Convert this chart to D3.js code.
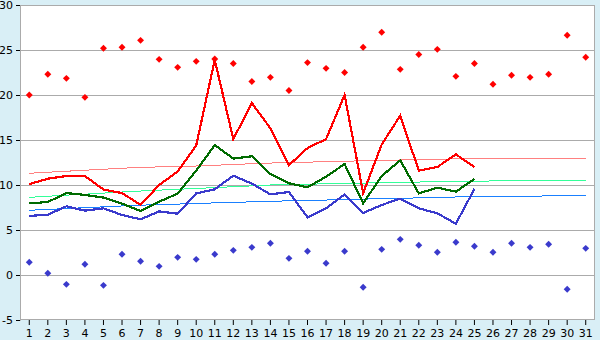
<!DOCTYPE html>
<html><head><meta charset="utf-8">
<script src="https://cdn.jsdelivr.net/npm/d3@7/dist/d3.min.js"></script>
<style>
html,body{margin:0;padding:0;background:#d9eff6;}
svg{display:block;}
text{font-family:"DejaVu Sans",Verdana,sans-serif;font-size:11px;fill:#000;}
</style></head><body>
<svg id="chart" width="600" height="340"></svg>
<script>
const days = d3.range(1, 32);
const yTicks = [-5, 0, 5, 10, 15, 20, 25, 30];

const dailyMax = [10.1,10.7,11.0,11.0,9.5,9.1,7.8,10.0,11.5,14.4,23.9,15.1,19.1,16.3,12.2,14.1,15.1,20.0,9.1,14.5,17.7,11.6,12.0,13.4,12.0];
const dailyMean = [7.96,8.11,9.1,8.9,8.6,7.93,7.11,8.15,9.04,11.6,14.44,12.93,13.19,11.22,10.19,9.74,10.93,12.33,7.96,11.0,12.74,9.07,9.7,9.26,10.67];
const dailyMin = [6.56,6.7,7.63,7.15,7.41,6.67,6.19,7.07,6.81,9.07,9.52,11.04,10.15,8.96,9.22,6.41,7.41,8.96,6.89,7.78,8.48,7.41,6.85,5.7,9.56];

const recordMax = [20.0,22.3,21.85,19.74,25.19,25.3,26.07,23.96,23.07,23.74,24.0,23.5,21.5,21.96,20.5,23.6,22.96,22.5,25.3,26.97,22.85,24.5,25.07,22.07,23.5,21.19,22.19,21.96,22.3,26.63,24.19];
const recordMin = [1.41,0.19,-1.04,1.19,-1.15,2.3,1.52,0.96,1.96,1.74,2.3,2.74,3.07,3.52,1.85,2.63,1.3,2.63,-1.37,2.85,3.96,3.3,2.52,3.63,3.19,2.52,3.52,3.07,3.41,-1.59,2.96];

const normalMax = [11.3,11.42,11.53,11.64,11.75,11.86,11.96,12.01,12.06,12.11,12.19,12.28,12.36,12.44,12.49,12.54,12.59,12.64,12.69,12.74,12.78,12.82,12.86,12.9,12.94,12.96,12.96,12.96,12.96,12.96,12.96];
const normalMean = [8.63,8.75,8.87,8.98,9.1,9.22,9.33,9.43,9.52,9.62,9.71,9.81,9.9,10.0,10.04,10.09,10.13,10.17,10.21,10.26,10.3,10.33,10.36,10.39,10.42,10.45,10.47,10.49,10.5,10.51,10.52];
const normalMin = [7.19,7.29,7.38,7.48,7.57,7.67,7.76,7.82,7.88,7.95,8.01,8.07,8.13,8.19,8.24,8.29,8.33,8.38,8.43,8.48,8.52,8.57,8.62,8.67,8.71,8.74,8.76,8.77,8.78,8.78,8.78];

const L = 20, R = 595, T = 5, B = 320;
const svg = d3.select("#chart");

const x = d3.scaleBand().domain(days).range([L, R]).paddingInner(0).paddingOuter(0);
const y = d3.scaleLinear().domain([-5, 30]).range([B, T]);
const cx = d => x(d) + x.bandwidth() / 2;

svg.append("rect").attr("x", L).attr("y", T).attr("width", R - L).attr("height", B - T)
  .attr("fill", "#fff");

svg.append("g").selectAll("line").data(yTicks.filter(t => t > -5 && t < 30)).join("line")
  .attr("x1", L).attr("x2", R)
  .attr("y1", d => Math.round(y(d)) + 0.5).attr("y2", d => Math.round(y(d)) + 0.5)
  .attr("stroke", "#ababab").attr("stroke-width", 1);

svg.append("rect").attr("x", L + 0.5).attr("y", T + 0.5).attr("width", R - L - 1).attr("height", B - T - 1)
  .attr("fill", "none").attr("stroke", "#ababab");

const yAxis = d3.axisLeft(y).tickValues(yTicks).tickSize(4).tickPadding(3)
  .tickFormat(d => d < 0 ? "-" + Math.abs(d) : String(d));
const gy = svg.append("g").attr("transform", `translate(${L},0)`).call(yAxis);
gy.select(".domain").attr("stroke", "#ababab");
gy.selectAll(".tick line").attr("stroke", "#000");
gy.selectAll("text").style("font-size", "11px");

const xAxis = d3.axisBottom(x).tickSize(5).tickPadding(4);
const gx = svg.append("g").attr("transform", `translate(0,${B})`).call(xAxis);
gx.select(".domain").remove();
gx.selectAll(".tick line").attr("stroke", "#000");
gx.selectAll("text").style("font-size", "11px");

const line = arr => d3.line().x((v, i) => cx(days[i])).y(v => y(v))(arr);
[[normalMax, "#ff8080"], [normalMean, "#33ff99"], [normalMin, "#1a80ff"]].forEach(([arr, c]) => {
  svg.append("path").attr("d", line(arr)).attr("fill", "none").attr("stroke", c)
    .attr("stroke-width", 1).attr("shape-rendering", "crispEdges");
});

[[dailyMax, "#ff0000"], [dailyMean, "#006b00"], [dailyMin, "#3a3acc"]].forEach(([arr, c]) => {
  svg.append("path").attr("d", line(arr)).attr("fill", "none").attr("stroke", c)
    .attr("stroke-width", 2.2).attr("stroke-linejoin", "miter").attr("shape-rendering", "crispEdges");
});

// square diamond marker (half-width 3.5px)
const squareDiamond = {
  draw(ctx, size) {
    const r = Math.sqrt(size / 2);
    ctx.moveTo(0, -r); ctx.lineTo(r, 0); ctx.lineTo(0, r); ctx.lineTo(-r, 0); ctx.closePath();
  }
};
const diamond = d3.symbol().type(squareDiamond).size(24);
[[recordMax, "#ff0000"], [recordMin, "#3a3acc"]].forEach(([arr, c]) => {
  svg.append("g").selectAll("path").data(arr).join("path")
    .attr("d", diamond)
    .attr("transform", (v, i) => `translate(${cx(days[i])},${y(v)})`)
    .attr("fill", c);
});
</script>
</body></html>
